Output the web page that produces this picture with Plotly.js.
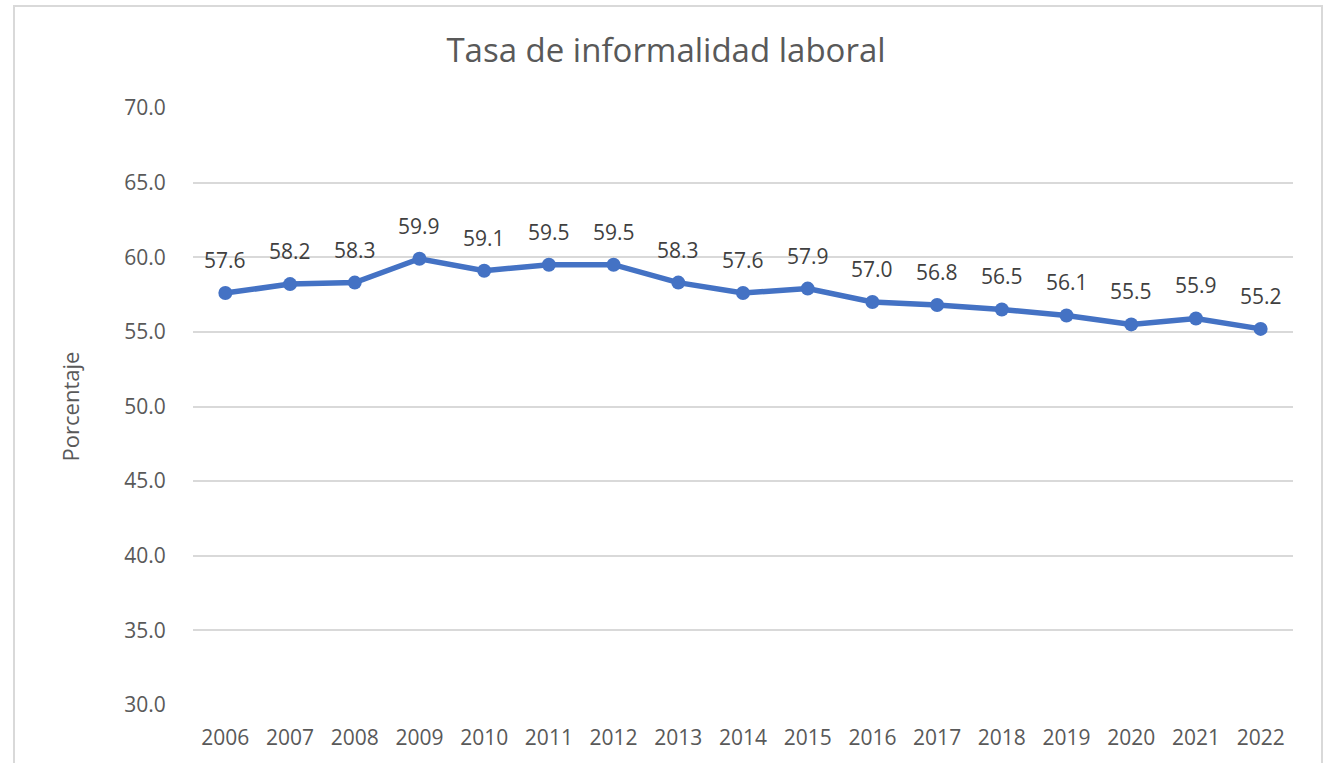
<!DOCTYPE html>
<html>
<head>
<meta charset="utf-8">
<script src="https://cdn.plot.ly/plotly-3.0.1.min.js"></script>
<style>
html,body{margin:0;padding:0;background:#fff;}
#chart{width:1332px;height:763px;}
</style>
</head>
<body>
<div id="chart"></div>
<script>
const years = ["2006","2007","2008","2009","2010","2011","2012","2013","2014","2015","2016","2017","2018","2019","2020","2021","2022"];
const tasa = [57.6,58.2,58.3,59.9,59.1,59.5,59.5,58.3,57.6,57.9,57.0,56.8,56.5,56.1,55.5,55.9,55.2];
const yTicks = [30,35,40,45,50,55,60,65,70];

const FONT = "Open Sans, Noto Sans, sans-serif";

const trace = {
  x: years,
  y: tasa,
  type: 'scatter',
  mode: 'lines+markers',
  line: {color: '#4472C4', width: 5.5},
  marker: {color: '#4472C4', size: 14},
  cliponaxis: false,
  hoverinfo: 'x+y'
};

// category axis: annotation positions are given by the category index of each year
const labels = years.map((yr, i) => ({
  x: i,
  y: tasa[i],
  xref: 'x', yref: 'y',
  text: tasa[i].toFixed(1),
  showarrow: false,
  yshift: 33,
  font: {family: FONT, size: 21, color: '#404040'}
}));

const layout = {
  width: 1332,
  height: 763,
  margin: {l: 193, r: 39, t: 108, b: 58},
  paper_bgcolor: '#ffffff',
  plot_bgcolor: '#ffffff',
  showlegend: false,
  title: {
    text: 'Tasa de informalidad laboral',
    font: {family: FONT, size: 33, color: '#595959'},
    x: 0.5, xanchor: 'center',
    y: 0.934, yanchor: 'middle'
  },
  xaxis: {
    type: 'category',
    categoryorder: 'array',
    categoryarray: years,
    range: [-0.5, years.length - 0.5],
    autorange: false,
    tickfont: {family: FONT, size: 21, color: '#595959'},
    showgrid: false,
    zeroline: false,
    showline: false,
    ticks: 'outside',
    ticklen: 14,
    tickcolor: 'rgba(0,0,0,0)'
  },
  yaxis: {
    range: [30, 70],
    autorange: false,
    tickvals: yTicks,
    ticktext: yTicks.map(v => v.toFixed(1)),
    tickfont: {family: FONT, size: 21, color: '#595959'},
    showgrid: true,
    gridcolor: '#d9d9d9',
    gridwidth: 1.5,
    zeroline: false,
    showline: false,
    ticks: 'outside',
    ticklen: 22,
    tickcolor: 'rgba(0,0,0,0)',
    title: {
      text: 'Porcentaje',
      font: {family: FONT, size: 22, color: '#595959'},
      standoff: 38
    }
  },
  annotations: labels,
  shapes: [{
    type: 'rect',
    xref: 'paper', yref: 'paper',
    x0: (14 - 193) / 1100, x1: (1322 - 193) / 1100,
    y0: (705 - 775) / 597, y1: (705 - 6) / 597,
    line: {color: '#d9d9d9', width: 2},
    fillcolor: 'rgba(0,0,0,0)',
    layer: 'below'
  }]
};

Plotly.newPlot('chart', [trace], layout, {displayModeBar: false});
</script>
</body>
</html>
